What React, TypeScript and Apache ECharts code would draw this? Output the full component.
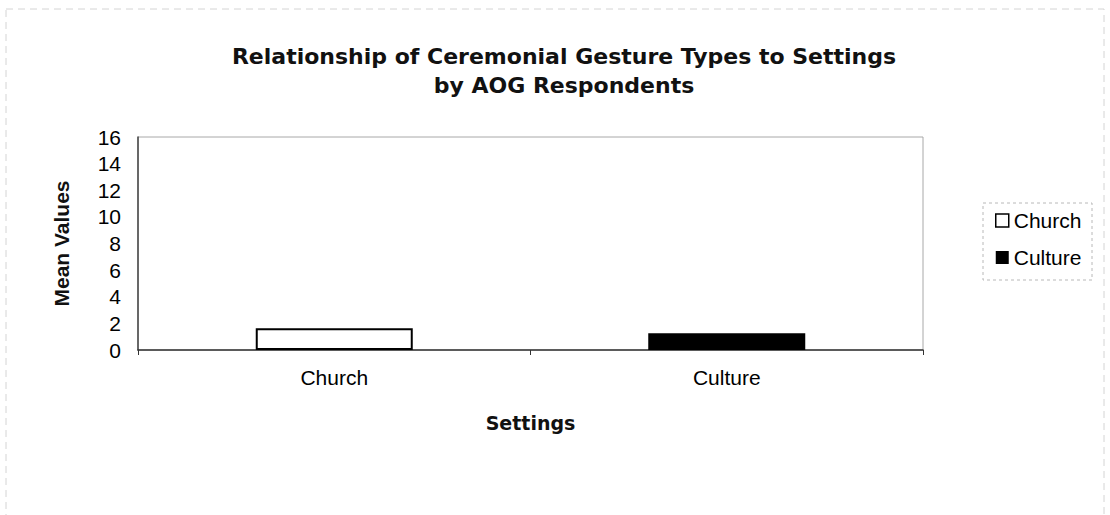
import { useEffect, useRef } from "react";
import * as echarts from "echarts";

// Settings on the category axis, one bar per setting
const categories = ["Church", "Culture"];
const seriesNames = ["Church", "Culture"];
// Mean values per setting (each series only fills its own category)
const churchValues = [1.63, null];
const cultureValues = [null, 1.25];
// Value axis range
const yMin = 0;
const yMax = 16;
const yStep = 2;
const titleLines = [
  "Relationship of Ceremonial Gesture Types to Settings",
  "by AOG Respondents",
];
const xAxisTitle = "Settings";
const yAxisTitle = "Mean Values";

const SANS = "'Liberation Sans', Arial, sans-serif";
const WIDE_BOLD = "'DejaVu Sans', 'Liberation Sans', sans-serif";

export default function App() {
  const ref = useRef<HTMLDivElement>(null);

  useEffect(() => {
    const chart = echarts.init(ref.current!, null, { renderer: "svg" });
    chart.setOption({
      animation: false,
      backgroundColor: "#ffffff",
      graphic: [
        {
          type: "rect",
          silent: true,
          shape: { x: 6, y: 9, width: 1098, height: 520 },
          style: { fill: "none", stroke: "#d4d4d4", lineWidth: 1, lineDash: [7, 5] },
        },
        {
          type: "text",
          x: 564,
          y: 56,
          style: {
            text: titleLines[0],
            fill: "#111",
            fontFamily: WIDE_BOLD,
            fontWeight: "bold",
            fontSize: 22,
            textAlign: "center",
            textVerticalAlign: "middle",
          },
        },
        {
          type: "text",
          x: 564,
          y: 85,
          style: {
            text: titleLines[1],
            fill: "#111",
            fontFamily: WIDE_BOLD,
            fontWeight: "bold",
            fontSize: 22,
            textAlign: "center",
            textVerticalAlign: "middle",
          },
        },
        {
          type: "rect",
          silent: true,
          shape: { x: 983, y: 203, width: 109, height: 77 },
          style: { fill: "none", stroke: "#b8b8b8", lineWidth: 1, lineDash: [3, 3] },
        },
      ],
      legend: {
        orient: "vertical",
        left: 990,
        top: 205,
        itemWidth: 13,
        itemHeight: 13,
        itemGap: 16,
        icon: "rect",
        textStyle: { fontFamily: SANS, fontSize: 21, color: "#000" },
        data: [
          {
            name: seriesNames[0],
            itemStyle: { color: "#fff", borderColor: "#000", borderWidth: 1.5 },
          },
          { name: seriesNames[1], itemStyle: { color: "#000" } },
        ],
      },
      grid: {
        left: 138,
        top: 137,
        width: 785,
        height: 213,
        show: true,
        borderColor: "#a8a8a8",
        borderWidth: 1,
        backgroundColor: "transparent",
      },
      xAxis: {
        type: "category",
        data: categories,
        name: xAxisTitle,
        nameLocation: "middle",
        nameGap: 63,
        nameTextStyle: {
          fontFamily: WIDE_BOLD,
          fontWeight: "bold",
          fontSize: 19,
          color: "#111",
        },
        axisLine: { lineStyle: { color: "#333", width: 1.5 } },
        axisTick: { show: true, length: 5, lineStyle: { color: "#333" } },
        axisLabel: { fontFamily: SANS, fontSize: 21, color: "#000", margin: 17 },
      },
      yAxis: {
        type: "value",
        min: yMin,
        max: yMax,
        interval: yStep,
        name: yAxisTitle,
        nameLocation: "middle",
        nameGap: 66,
        nameTextStyle: {
          fontFamily: SANS,
          fontWeight: "bold",
          fontSize: 21,
          color: "#111",
        },
        axisLine: { show: true, lineStyle: { color: "#444", width: 1.5 } },
        axisTick: { show: false },
        splitLine: { show: false },
        axisLabel: { fontFamily: SANS, fontSize: 21, color: "#000", margin: 17 },
      },
      series: [
        {
          name: seriesNames[0],
          type: "bar",
          stack: "setting",
          data: churchValues,
          barWidth: "40%",
          itemStyle: { color: "#fff", borderColor: "#000", borderWidth: 2 },
        },
        {
          name: seriesNames[1],
          type: "bar",
          stack: "setting",
          data: cultureValues,
          barWidth: "40%",
          itemStyle: { color: "#000" },
        },
      ],
    });
    return () => chart.dispose();
  }, []);

  return (
    <div
      ref={ref}
      style={{ position: "fixed", left: 0, top: 0, width: 1110, height: 515 }}
    />
  );
}
